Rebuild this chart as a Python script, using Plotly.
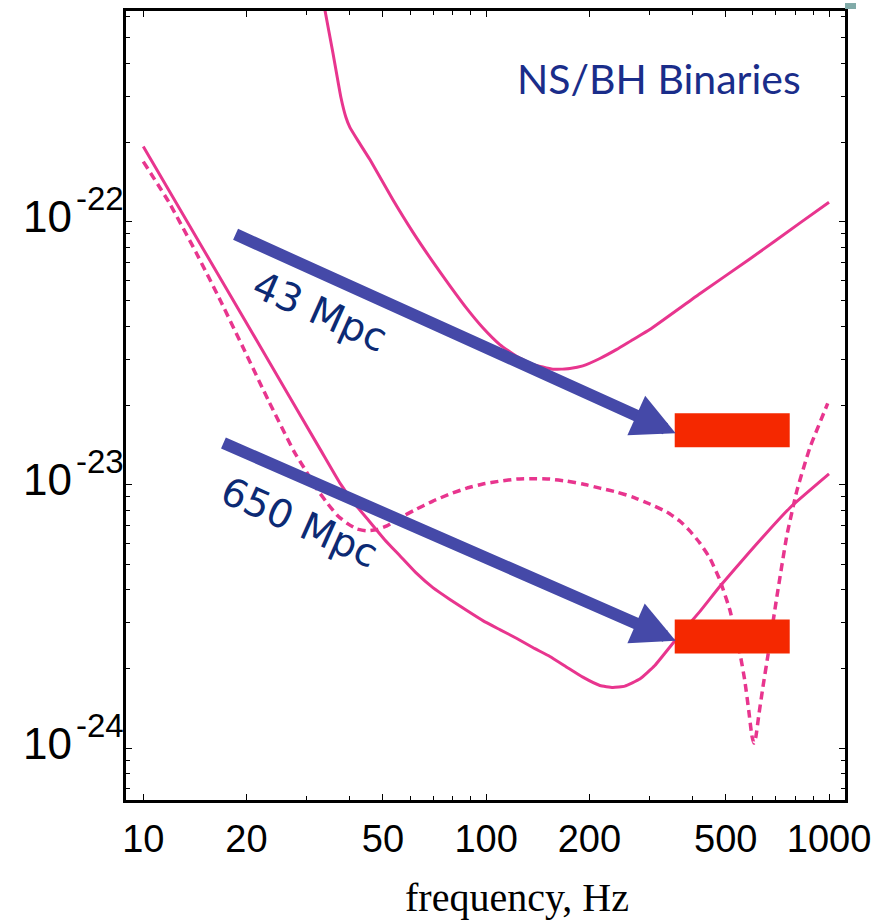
import numpy as np
import plotly.graph_objects as go

# ---------------- data ----------------
# Upper solid curve (initial detector)
freq_a = [32.75, 33.86, 35.73, 37.71, 38.99, 40.05, 42.27, 45.81, 53.46, 61.13, 69.93,
          78.40, 87.86, 97.81, 109.6, 122.9, 136.8, 156.5, 175.4, 191.4, 214.6, 240.4,
          267.7, 300.1, 419.8, 587.3, 821.4, 1000]
strain_a = [8.05e-22, 6.37e-22, 4.38e-22, 2.96e-22, 2.49e-22, 2.28e-22, 2.03e-22, 1.72e-22,
            1.21e-22, 9.12e-23, 7.03e-23, 5.70e-23, 4.67e-23, 3.95e-23, 3.41e-23, 3.07e-23,
            2.87e-23, 2.75e-23, 2.77e-23, 2.83e-23, 3.02e-23, 3.27e-23, 3.56e-23, 3.89e-23,
            5.32e-23, 7.21e-23, 9.87e-23, 1.185e-22]

# Lower solid curve (advanced, broadband)
freq_b = [10, 14.63, 21.89, 32.75, 37.46, 41.42, 45.81, 50.66, 56.03, 62.37, 69.93, 78.40,
          87.86, 97.81, 109.6, 122.9, 136.8, 153.4, 171.9, 191.4, 214.6, 234.1, 253.8,
          280.6, 310.4, 359.7, 419.8, 480.1, 587.3, 768.2, 1000]
strain_b = [1.93e-22, 8.26e-23, 3.37e-23, 1.37e-23, 1.016e-23, 8.46e-24, 7.23e-24, 6.18e-24,
            5.38e-24, 4.64e-24, 4.07e-24, 3.67e-24, 3.33e-24, 3.05e-24, 2.82e-24, 2.61e-24,
            2.41e-24, 2.23e-24, 2.03e-24, 1.86e-24, 1.73e-24, 1.70e-24, 1.72e-24, 1.83e-24,
            2.06e-24, 2.61e-24, 3.30e-24, 4.11e-24, 5.57e-24, 8.17e-24, 1.10e-23]

# Dashed curve (advanced, narrow-band tuned)
freq_c = [10, 11.88, 14.23, 16.85, 19.80, 23.26, 27.51, 29.81, 32.09, 34.56, 36.95, 39.53,
          41.98, 44.60, 47.70, 51.34, 56.03, 61.96, 69.93, 78.40, 87.86, 97.81, 109.6, 122.9,
          136.8, 153.4, 171.9, 191.4, 214.6, 240.4, 267.7, 300.1, 336.4, 367.1, 392.6, 419.8,
          448.9, 480.1, 513.4, 549.1, 567.8, 583.3, 595.2, 603.3, 611.5, 623.8, 640.8, 662.7,
          703.9, 752.9, 805.2, 878.7, 991.3]
strain_c = [1.69e-22, 1.185e-22, 7.67e-23, 4.96e-23, 3.21e-23, 2.07e-23, 1.34e-23, 1.13e-23,
            9.64e-24, 8.46e-24, 7.62e-24, 7.11e-24, 6.80e-24, 6.69e-24, 6.75e-24, 6.99e-24,
            7.49e-24, 8.03e-24, 8.68e-24, 9.23e-24, 9.72e-24, 1.007e-23, 1.033e-23, 1.052e-23,
            1.056e-23, 1.052e-23, 1.033e-23, 1.007e-23, 9.72e-24, 9.39e-24, 8.99e-24, 8.46e-24,
            7.89e-24, 7.29e-24, 6.69e-24, 6.02e-24, 5.28e-24, 4.36e-24, 3.36e-24, 2.31e-24,
            1.81e-24, 1.39e-24, 1.12e-24, 1.045e-24, 1.10e-24, 1.33e-24, 1.69e-24, 2.23e-24,
            3.73e-24, 6.40e-24, 9.47e-24, 1.38e-23, 2.04e-23]

# Arrows: (start freq, start strain) -> (end freq, end strain)
arrow_labels = ["43 Mpc", "650 Mpc"]
arrow_start_f = [18.4, 16.96]
arrow_start_h = [9.0e-23, 1.45e-23]
arrow_end_f = [357, 357]
arrow_end_h = [1.57e-23, 2.56e-24]
label_f = [32.75, 28.63]
label_h = [4.55e-23, 7.17e-24]

# Red bars: freq span and strain span
bar_f0 = [354.8, 354.8]
bar_f1 = [768, 768]
bar_h_lo = [1.39e-23, 2.29e-24]
bar_h_hi = [1.87e-23, 3.08e-24]

x_tickvals = [10, 20, 50, 100, 200, 500, 1000]
x_ticktext = ["10", "20", "50", "100", "200", "500", "1000"]
x_minor = [30, 40, 60, 70, 80, 90, 300, 400, 600, 700, 800, 900]
y_tickvals = [1e-24, 1e-23, 1e-22]
y_tick_base = ["10", "10", "10"]
y_tick_exp = ["-24", "-23", "-22"]
y_minor = [m * 10.0 ** e for e in (-25, -24, -23, -22) for m in range(2, 10)]

PINK = "#e8358e"
ARROW = "#4549a8"
NAVY = "#0c2a74"
RED = "#f52800"

fig = go.Figure()

fig.add_trace(go.Scatter(x=freq_a, y=strain_a, mode="lines",
                         line=dict(color=PINK, width=3, shape="spline", smoothing=0.4)))
fig.add_trace(go.Scatter(x=freq_b, y=strain_b, mode="lines",
                         line=dict(color=PINK, width=3, shape="spline", smoothing=0.4)))
fig.add_trace(go.Scatter(x=freq_c, y=strain_c, mode="lines",
                         line=dict(color=PINK, width=3.5, dash="8px,5px", shape="spline", smoothing=0.4)))

for i in range(2):
    fig.add_trace(go.Scatter(
        x=[bar_f0[i], bar_f1[i], bar_f1[i], bar_f0[i], bar_f0[i]],
        y=[bar_h_lo[i], bar_h_lo[i], bar_h_hi[i], bar_h_hi[i], bar_h_lo[i]],
        mode="lines", fill="toself", fillcolor=RED, line=dict(width=0, color=RED)))


def px_x(px):
    return (px - 126) / 719.0


def px_y(py):
    return (800 - py) / 792.0


annotations = []
for i in range(2):
    annotations.append(dict(
        xref="x", yref="y", axref="x", ayref="y",
        x=np.log10(arrow_end_f[i]), y=np.log10(arrow_end_h[i]),
        ax=np.log10(arrow_start_f[i]), ay=np.log10(arrow_start_h[i]),
        text="", showarrow=True, arrowhead=2, arrowsize=0.72, arrowwidth=12,
        arrowcolor=ARROW, standoff=0, startstandoff=0))
    annotations.append(dict(
        xref="x", yref="y", x=np.log10(label_f[i]), y=np.log10(label_h[i]),
        xanchor="center", yanchor="middle",
        text=arrow_labels[i], showarrow=False, textangle=24,
        font=dict(family="DejaVu Sans", size=39, color=NAVY)))

# y-axis labels: base and exponent drawn as real text
for v, b, e in zip(y_tickvals, y_tick_base, y_tick_exp):
    annotations.append(dict(xref="paper", yref="y", x=px_x(74), y=np.log10(v),
                            xanchor="right", yanchor="middle", yshift=5,
                            text=b, showarrow=False,
                            font=dict(family="Liberation Sans", size=44, color="black")))
    annotations.append(dict(xref="paper", yref="y", x=px_x(74), y=np.log10(v),
                            xanchor="left", yanchor="middle", yshift=23,
                            text=e, showarrow=False,
                            font=dict(family="Liberation Sans", size=33, color="black")))

annotations.append(dict(xref="paper", yref="paper", x=px_x(659), y=px_y(76),
                        xanchor="center", yanchor="middle",
                        text="NS/BH Binaries", showarrow=False,
                        font=dict(family="Lato", size=41, color="#1a2d8a")))
annotations.append(dict(xref="paper", yref="paper", x=px_x(517), y=px_y(898),
                        xanchor="center", yanchor="middle",
                        text="frequency, Hz", showarrow=False,
                        font=dict(family="Liberation Serif", size=40, color="black")))
fig.update_layout(annotations=annotations)

fig.add_shape(type="rect", xref="paper", yref="paper",
              x0=px_x(845), x1=px_x(856), y0=px_y(6), y1=px_y(0),
              fillcolor="#80aaa8", line=dict(width=0))

fig.update_xaxes(type="log", range=[0.9496, 3.0466], showgrid=False, zeroline=False,
                 showline=True, linewidth=2.5, linecolor="black", mirror="ticks",
                 ticks="inside", ticklen=6, tickwidth=1, tickcolor="black",
                 tickvals=x_tickvals, ticktext=x_ticktext, ticklabelstandoff=4,
                 tickfont=dict(family="Liberation Sans", size=38, color="black"),
                 minor=dict(tickvals=x_minor, ticks="inside", ticklen=4, tickcolor="black", showgrid=False))
fig.update_yaxes(type="log", range=[-24.197, -21.2], showgrid=False, zeroline=False,
                 showline=True, linewidth=2.5, linecolor="black", mirror="ticks",
                 ticks="inside", ticklen=6, tickwidth=1, tickcolor="black",
                 tickvals=y_tickvals, showticklabels=False,
                 minor=dict(tickvals=y_minor, ticks="inside", ticklen=4, tickcolor="black", showgrid=False))

fig.update_layout(width=890, height=922, margin=dict(l=126, r=45, t=8, b=122),
                  plot_bgcolor="white", paper_bgcolor="white", showlegend=False)

fig.write_html("out.html")
